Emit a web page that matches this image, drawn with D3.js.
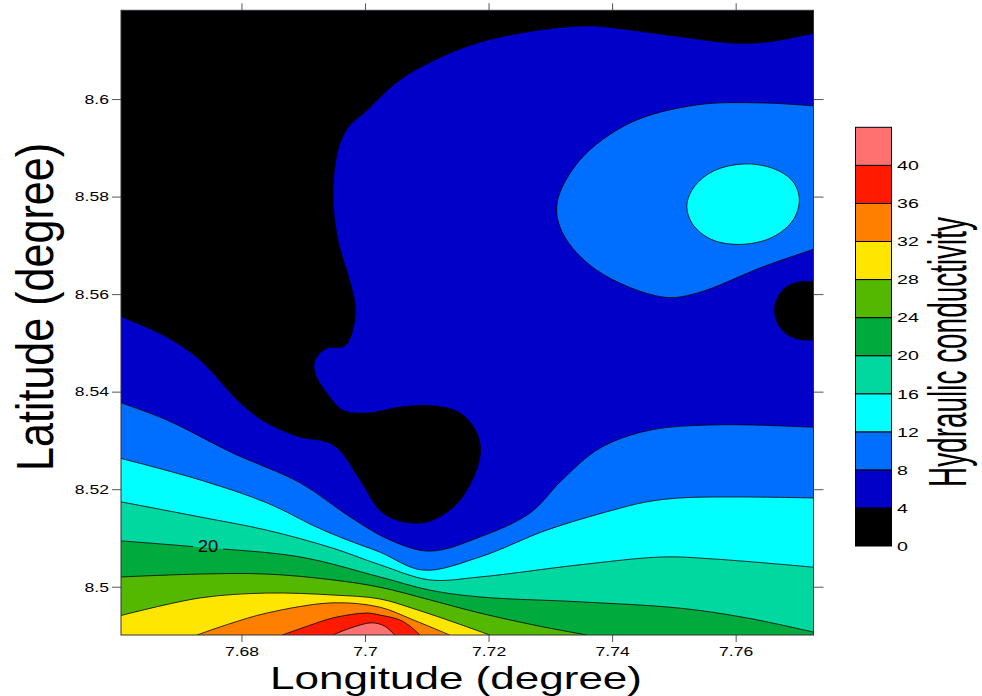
<!DOCTYPE html>
<html lang="en">
<head>
<meta charset="utf-8">
<script src="https://d3js.org/d3.v7.min.js"></script>
<style>
  body { margin: 0; background: #fff; }
  svg text { font-family: "Liberation Sans", Arial, sans-serif; fill: #000; }
</style>
</head>
<body>
<div id="chart"></div>
<script>
// contour levels and the fill colour of each band [level, level + 4)
var levels = [0, 4, 8, 12, 16, 20, 24, 28, 32, 36, 40, 44];
var bandColors = ["#000000", "#0000c8", "#006eff", "#00ffff", "#00d8a0", "#00aa3c",
                  "#55b800", "#ffe600", "#ff8000", "#ff1a00", "#ff7070"];

var xTicks = [7.68, 7.70, 7.72, 7.74, 7.76];
var xTickLabels = ["7.68", "7.7", "7.72", "7.74", "7.76"];
var yTicks = [8.50, 8.52, 8.54, 8.56, 8.58, 8.60];
var yTickLabels = ["8.5", "8.52", "8.54", "8.56", "8.58", "8.6"];
var lonRange = [7.6605, 7.7726];
var latRange = [8.4901, 8.6182];

// contour lines, [longitude, latitude]
// 4: big low area top-left (left edge -> right edge)
var c4Main = [
  [7.6605, 8.5554], [7.6679, 8.5512], [7.6733, 8.5465], [7.6798, 8.5377], [7.6841, 8.5336],
  [7.6895, 8.5307], [7.6938, 8.5297], [7.6959, 8.5280], [7.6992, 8.5219], [7.7029, 8.5151],
  [7.7073, 8.5131], [7.7110, 8.5137], [7.7154, 8.5178], [7.7186, 8.5266], [7.7181, 8.5315],
  [7.7154, 8.5356], [7.7110, 8.5371], [7.7056, 8.5368], [7.7003, 8.5356], [7.6964, 8.5362],
  [7.6938, 8.5397], [7.6919, 8.5438], [7.6919, 8.5465], [7.6938, 8.5489], [7.6967, 8.5494],
  [7.6980, 8.5526], [7.6984, 8.5574], [7.6976, 8.5623], [7.6956, 8.5711], [7.6948, 8.5803],
  [7.6956, 8.5895], [7.6972, 8.5941], [7.7003, 8.5977], [7.7056, 8.6039], [7.7137, 8.6094],
  [7.7218, 8.6127], [7.7353, 8.6150], [7.7434, 8.6141], [7.7514, 8.6127], [7.7595, 8.6115],
  [7.7650, 8.6117], [7.7726, 8.6135]
];
// 4: small low patch on the right edge
var c4Blob = [
  [7.7726, 8.5625], [7.7704, 8.5625], [7.7682, 8.5615], [7.7666, 8.5588], [7.7663, 8.5564],
  [7.7669, 8.5537], [7.7685, 8.5516], [7.7704, 8.5507], [7.7726, 8.5506]
];
var c8Upper = [
  [7.7726, 8.5986], [7.7644, 8.5992], [7.7537, 8.5988], [7.7429, 8.5951], [7.7348, 8.5875],
  [7.7311, 8.5787], [7.7320, 8.5725], [7.7375, 8.5649], [7.7482, 8.5594], [7.7537, 8.5602],
  [7.7644, 8.5656], [7.7726, 8.5692]
];
var c8Lower = [
  [7.6605, 8.5377], [7.6679, 8.5342], [7.6786, 8.5274], [7.6895, 8.5213], [7.6976, 8.5143],
  [7.7040, 8.5096], [7.7105, 8.5073], [7.7186, 8.5102], [7.7267, 8.5151], [7.7319, 8.5219],
  [7.7380, 8.5284], [7.7461, 8.5321], [7.7574, 8.5332], [7.7726, 8.5327]
];
var c12Ellipse = [
  [7.7521, 8.5783], [7.7534, 8.5822], [7.7565, 8.5853], [7.7614, 8.5867], [7.7660, 8.5858],
  [7.7692, 8.5832], [7.7703, 8.5795], [7.7693, 8.5752], [7.7660, 8.5717], [7.7610, 8.5702],
  [7.7561, 8.5712], [7.7530, 8.5744]
];
var c12Lower = [
  [7.6605, 8.5263], [7.6733, 8.5219], [7.6841, 8.5172], [7.6922, 8.5122], [7.6971, 8.5096],
  [7.7024, 8.5071], [7.7094, 8.5034], [7.7186, 8.5061], [7.7294, 8.5116], [7.7401, 8.5157],
  [7.7456, 8.5174], [7.7510, 8.5182], [7.7607, 8.5184], [7.7726, 8.5182]
];
var c16 = [
  [7.6605, 8.5174], [7.6733, 8.5143], [7.6841, 8.5116], [7.6948, 8.5079], [7.7024, 8.5045],
  [7.7105, 8.5014], [7.7186, 8.5020], [7.7348, 8.5045], [7.7482, 8.5061], [7.7563, 8.5057],
  [7.7726, 8.5040]
];
var c20 = [
  [7.6605, 8.5094], [7.6733, 8.5081], [7.6895, 8.5061], [7.7024, 8.5020], [7.7105, 8.4993],
  [7.7186, 8.4979], [7.7348, 8.4969], [7.7510, 8.4956], [7.7618, 8.4936], [7.7726, 8.4907]
];
var c24 = [
  [7.6605, 8.5020], [7.6733, 8.5026], [7.6841, 8.5026], [7.6948, 8.5014], [7.7024, 8.4999],
  [7.7105, 8.4973], [7.7186, 8.4946], [7.7283, 8.4919], [7.7359, 8.4901]
];
var c28 = [
  [7.6605, 8.4941], [7.6733, 8.4977], [7.6841, 8.4987], [7.6948, 8.4983], [7.7024, 8.4975],
  [7.7081, 8.4954], [7.7133, 8.4932], [7.7202, 8.4901]
];
var c32 = [
  [7.6728, 8.4901], [7.6781, 8.4924], [7.6841, 8.4946], [7.6948, 8.4967], [7.7024, 8.4958],
  [7.7078, 8.4932], [7.7137, 8.4901]
];
var c36 = [
  [7.6866, 8.4901], [7.6911, 8.4921], [7.6948, 8.4936], [7.7003, 8.4946], [7.7024, 8.4942],
  [7.7056, 8.4932], [7.7073, 8.4919], [7.7089, 8.4901]
];
var c40 = [
  [7.6948, 8.4901], [7.6976, 8.4915], [7.7011, 8.4926], [7.7032, 8.4919], [7.7048, 8.4901]
];
var label20 = [7.6746, 8.5082];

// which band each contour encloses and how its area closes along the frame
var regions = [
  { pts: c4Main, band: 0, close: ["TR", "TL"] },
  { pts: c4Blob, band: 0, close: [] },
  { pts: c8Upper, band: 2, close: [] },
  { pts: c8Lower, band: 2, close: ["BR", "BL"] },
  { pts: c12Ellipse, band: 3, closed: true },
  { pts: c12Lower, band: 3, close: ["BR", "BL"] },
  { pts: c16, band: 4, close: ["BR", "BL"] },
  { pts: c20, band: 5, close: ["BR", "BL"] },
  { pts: c24, band: 6, close: ["BL"] },
  { pts: c28, band: 7, close: ["BL"] },
  { pts: c32, band: 8, close: [] },
  { pts: c36, band: 9, close: [] },
  { pts: c40, band: 10, close: [] }
];

var W = 982, H = 696;
var plot = { left: 121, right: 813.5, top: 10.3, bottom: 635 };

var svg = d3.select("#chart").append("svg")
  .attr("width", W).attr("height", H);

var x = d3.scaleLinear().domain(lonRange).range([plot.left, plot.right]);
var y = d3.scaleLinear().domain(latRange).range([plot.bottom, plot.top]);

function corner(k) {
  var cx = k[1] == "L" ? lonRange[0] : lonRange[1];
  var cy = k[0] == "B" ? latRange[0] : latRange[1];
  return x(cx) + "," + y(cy);
}

var line = d3.line().x(function (d) { return x(d[0]); }).y(function (d) { return y(d[1]); })
  .curve(d3.curveCatmullRom.alpha(0.5));
var ring = d3.line().x(function (d) { return x(d[0]); }).y(function (d) { return y(d[1]); })
  .curve(d3.curveCatmullRomClosed.alpha(0.5));

var defs = svg.append("defs");
defs.append("clipPath").attr("id", "plotClip").append("rect")
  .attr("x", plot.left).attr("y", plot.top)
  .attr("width", plot.right - plot.left).attr("height", plot.bottom - plot.top);

// gap in the 20 line under its label
var mask = defs.append("mask").attr("id", "labelGap")
  .attr("maskUnits", "userSpaceOnUse").attr("x", 0).attr("y", 0).attr("width", W).attr("height", H);
mask.append("rect").attr("width", W).attr("height", H).attr("fill", "#fff");
mask.append("rect").attr("x", x(label20[0]) - 15).attr("y", y(label20[1]) - 7)
  .attr("width", 30).attr("height", 14).attr("fill", "#000");

var map = svg.append("g").attr("clip-path", "url(#plotClip)");

// background band 4-8
map.append("rect")
  .attr("x", plot.left).attr("y", plot.top)
  .attr("width", plot.right - plot.left).attr("height", plot.bottom - plot.top)
  .attr("fill", bandColors[1]);

map.selectAll("path.fill")
  .data(regions)
  .join("path")
  .attr("class", "fill")
  .attr("fill", function (d) { return bandColors[d.band]; })
  .attr("d", function (d) {
    if (d.closed) return ring(d.pts);
    return line(d.pts) + d.close.map(function (c) { return "L" + corner(c); }).join("") + "Z";
  });

map.append("g").attr("mask", "url(#labelGap)")
  .selectAll("path")
  .data(regions)
  .join("path")
  .attr("fill", "none")
  .attr("stroke", "#000")
  .attr("stroke-width", 0.8)
  .attr("d", function (d) { return d.closed ? ring(d.pts) : line(d.pts); });

function stretch(sel, k) {
  sel.each(function () {
    var w = this.getComputedTextLength();
    d3.select(this).attr("textLength", w * k).attr("lengthAdjust", "spacingAndGlyphs");
  });
}

var lbl = svg.append("text")
  .attr("x", x(label20[0])).attr("y", y(label20[1]) + 5.6)
  .attr("text-anchor", "middle").attr("font-size", 16)
  .text("20");
stretch(lbl, 1.15);

// axes
var axisColor = "#555";
var gB = svg.append("g").attr("transform", "translate(0," + plot.bottom + ")")
  .call(d3.axisBottom(x).tickValues(xTicks).tickSize(7)
    .tickFormat(function (d, i) { return xTickLabels[i]; }))
  .attr("font-size", 13.5).attr("color", axisColor);
gB.select(".domain").remove();
gB.selectAll("text").attr("y", 20.5).attr("dy", null);
stretch(gB.selectAll("text"), 1.3);

var gL = svg.append("g").attr("transform", "translate(" + plot.left + ",0)")
  .call(d3.axisLeft(y).tickValues(yTicks).tickSize(9).tickPadding(3)
    .tickFormat(function (d, i) { return yTickLabels[i]; }))
  .attr("font-size", 13.5).attr("color", axisColor);
gL.select(".domain").remove();
stretch(gL.selectAll("text"), 1.3);

var gT = svg.append("g").attr("transform", "translate(0," + plot.top + ")")
  .call(d3.axisTop(x).tickValues(xTicks).tickSize(7).tickFormat(""))
  .attr("color", axisColor);
gT.select(".domain").remove();

var gR = svg.append("g").attr("transform", "translate(" + plot.right + ",0)")
  .call(d3.axisRight(y).tickValues(yTicks).tickSize(10).tickFormat(""))
  .attr("color", axisColor);
gR.select(".domain").remove();

svg.append("rect")
  .attr("x", plot.left).attr("y", plot.top)
  .attr("width", plot.right - plot.left).attr("height", plot.bottom - plot.top)
  .attr("fill", "none").attr("stroke", "#333").attr("stroke-width", 1);

// axis titles
svg.append("text")
  .attr("x", 456).attr("y", 689)
  .attr("text-anchor", "middle").attr("font-size", 32)
  .attr("textLength", 372).attr("lengthAdjust", "spacingAndGlyphs")
  .text("Longitude (degree)");

svg.append("text")
  .attr("transform", "translate(53,307) rotate(-90)")
  .attr("text-anchor", "middle").attr("font-size", 52)
  .attr("textLength", 328).attr("lengthAdjust", "spacingAndGlyphs")
  .text("Latitude (degree)");

// colour bar
var cb = d3.scaleLinear().domain([levels[0], levels[levels.length - 1]]).range([546, 127.3]);
var cbar = svg.append("g");
cbar.selectAll("rect")
  .data(bandColors)
  .join("rect")
  .attr("x", 855.5)
  .attr("width", 36)
  .attr("y", function (d, i) { return cb(levels[i + 1]); })
  .attr("height", function (d, i) { return cb(levels[i]) - cb(levels[i + 1]); })
  .attr("fill", function (d) { return d; })
  .attr("stroke", "#000").attr("stroke-width", 1);

var cbText = cbar.selectAll("text")
  .data(levels.slice(0, levels.length - 1))
  .join("text")
  .attr("x", 897)
  .attr("y", function (d) { return cb(d) + 4.8; })
  .attr("font-size", 13.5)
  .text(function (d) { return d; });
stretch(cbText, 1.45);

svg.append("text")
  .attr("transform", "translate(966,352) rotate(-90)")
  .attr("text-anchor", "middle").attr("font-size", 54)
  .attr("textLength", 270).attr("lengthAdjust", "spacingAndGlyphs")
  .text("Hydraulic conductivity");
</script>
</body>
</html>
